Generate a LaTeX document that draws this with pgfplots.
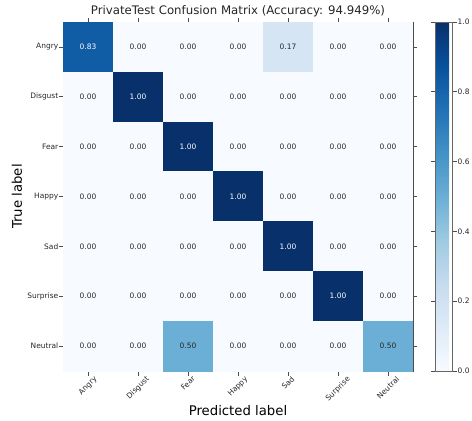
\documentclass[border=0pt]{standalone}
\usepackage{pgfplots}
\pgfplotsset{compat=1.18}
\usepackage{fontspec}
\setmainfont{DejaVu Sans}
\pgfplotsset{
 colormap={blues}{rgb255=(247,251,255) rgb255=(222,235,247) rgb255=(198,219,239) rgb255=(158,202,225) rgb255=(107,174,214) rgb255=(66,146,198) rgb255=(33,113,181) rgb255=(8,81,156) rgb255=(8,48,107)}
}
\begin{document}
\begin{tikzpicture}
\path[use as bounding box] (-63bp,-50bp) rectangle (409bp,371bp);
\begin{axis}[
 at={(175bp,174.5bp)}, anchor=center,
 scale only axis, width=350bp, height=349bp,
 xmin=-0.5,xmax=6.5,ymin=-0.5,ymax=6.5,
 y dir=reverse,
 colormap name=blues,
 point meta min=0, point meta max=1,
 axis line style={black!70, line width=0.7bp},
 tick style={black!70, line width=0.7bp},
 tick align=outside, major tick length=4.5bp,
 xtick={0,...,6}, ytick={0,...,6},
 xticklabels={\rotatebox{45}{Angry},\rotatebox{45}{Disgust},\rotatebox{45}{Fear},\rotatebox{45}{Happy},\rotatebox{45}{Sad},\rotatebox{45}{Surprise},\rotatebox{45}{Neutral}},
 yticklabels={Angry,Disgust,Fear,Happy,Sad,Surprise,Neutral},
 xticklabel style={font=\fontsize{7.5}{9}\selectfont, anchor=north, inner sep=0pt, text=black!85},
 yticklabel style={font=\fontsize{7.5}{9}\selectfont, anchor=east, inner sep=0pt, text=black!85},
 xlabel={Predicted label}, ylabel={True label},
 xlabel style={font=\fontsize{13.3}{15}\selectfont, at={(axis description cs:0.5,-0.1146)}, anchor=center},
 ylabel style={font=\fontsize{13.3}{15}\selectfont, at={(axis description cs:-0.1314,0.5)}, anchor=center},
 title={PrivateTest Confusion Matrix (Accuracy: 94.949\%)},
 title style={font=\fontsize{11.8}{13}\selectfont, at={(axis description cs:0.5,1)}, anchor=base, yshift=1.5bp, text=black!85},
 colorbar right,
 colorbar style={
  at={(parent axis.north east)}, anchor=north west, xshift=13.5bp,
  width=17.5bp, y dir=normal,
  ytick={0,0.2,0.4,0.6,0.8,1},
  axis line style={black!60, line width=0.7bp},
  tick style={black!70, line width=0.7bp},
  tick align=outside, major tick length=4bp,
  yticklabel style={font=\fontsize{7.5}{9}\selectfont, text=black!85, inner sep=1bp, /pgf/number format/.cd, fixed, fixed zerofill, precision=1, assume math mode=true},
 },
]
\addplot[matrix plot*, mesh/cols=7, point meta=explicit] table[meta=c] {
x y c
0 0 0.83
1 0 0
2 0 0
3 0 0
4 0 0.17
5 0 0
6 0 0
0 1 0
1 1 1
2 1 0
3 1 0
4 1 0
5 1 0
6 1 0
0 2 0
1 2 0
2 2 1
3 2 0
4 2 0
5 2 0
6 2 0
0 3 0
1 3 0
2 3 0
3 3 1
4 3 0
5 3 0
6 3 0
0 4 0
1 4 0
2 4 0
3 4 0
4 4 1
5 4 0
6 4 0
0 5 0
1 5 0
2 5 0
3 5 0
4 5 0
5 5 1
6 5 0
0 6 0
1 6 0
2 6 0.5
3 6 0
4 6 0
5 6 0
6 6 0.5
};
\addplot[only marks, mark=none, nodes near coords, point meta=explicit symbolic,
  nodes near coords style={font=\fontsize{7.5}{9}\selectfont, anchor=center, text=white}] table[meta=t] {
x y t
0 0 0.83
1 1 1.00
2 2 1.00
3 3 1.00
4 4 1.00
5 5 1.00
};
\addplot[only marks, mark=none, nodes near coords, point meta=explicit symbolic,
  nodes near coords style={font=\fontsize{7.5}{9}\selectfont, anchor=center, text=black!85}] table[meta=t] {
x y t
1 0 0.00
2 0 0.00
3 0 0.00
4 0 0.17
5 0 0.00
6 0 0.00
0 1 0.00
2 1 0.00
3 1 0.00
4 1 0.00
5 1 0.00
6 1 0.00
0 2 0.00
1 2 0.00
3 2 0.00
4 2 0.00
5 2 0.00
6 2 0.00
0 3 0.00
1 3 0.00
2 3 0.00
4 3 0.00
5 3 0.00
6 3 0.00
0 4 0.00
1 4 0.00
2 4 0.00
3 4 0.00
5 4 0.00
6 4 0.00
0 5 0.00
1 5 0.00
2 5 0.00
3 5 0.00
4 5 0.00
6 5 0.00
0 6 0.00
1 6 0.00
2 6 0.50
3 6 0.00
4 6 0.00
5 6 0.00
6 6 0.50
};
\end{axis}
\end{tikzpicture}
\end{document}
